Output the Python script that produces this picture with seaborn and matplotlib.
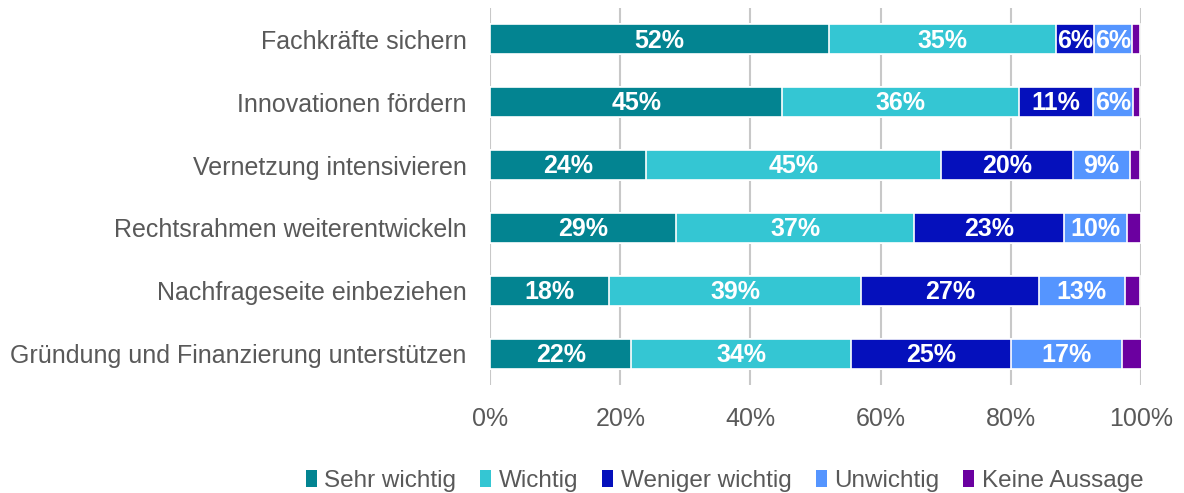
#!/usr/bin/env python3
"""
plot.py - Stacked horizontal bar chart of priorities (share of answers).
"""

import matplotlib.pyplot as plt
from matplotlib.patches import Patch
import pandas as pd
import seaborn as sns

# -- Data -- #

CATEGORIES = [
    'Fachkräfte sichern',
    'Innovationen fördern',
    'Vernetzung intensivieren',
    'Rechtsrahmen weiterentwickeln',
    'Nachfrageseite einbeziehen',
    'Gründung und Finanzierung unterstützen',
]

SERIES = ['Sehr wichtig', 'Wichtig', 'Weniger wichtig', 'Unwichtig', 'Keine Aussage']

SEHR_WICHTIG = [52.1, 44.9, 23.9, 28.6, 18.3, 21.7]
WICHTIG = [34.9, 36.4, 45.4, 36.6, 38.7, 33.8]
WENIGER_WICHTIG = [5.8, 11.3, 20.2, 23.0, 27.3, 24.6]
UNWICHTIG = [5.8, 6.1, 8.8, 9.6, 13.2, 17.0]
KEINE_AUSSAGE = [1.3, 1.2, 1.6, 2.2, 2.4, 3.0]

X_TICKS = [0, 20, 40, 60, 80, 100]

COLORS = ['#038491', '#34C6D3', '#0510BC', '#5595FF', '#6B00A0']

TEXT_GRAY = '#595959'


def main():
    sns.set_theme(style='white')
    plt.rcParams['font.family'] = ['Liberation Sans', 'DejaVu Sans']

    df = pd.DataFrame(
        {
            'category': CATEGORIES,
            SERIES[0]: SEHR_WICHTIG,
            SERIES[1]: WICHTIG,
            SERIES[2]: WENIGER_WICHTIG,
            SERIES[3]: UNWICHTIG,
            SERIES[4]: KEINE_AUSSAGE,
        }
    )
    cum = df[SERIES].cumsum(axis=1)

    fig = plt.figure(figsize=(11.84, 4.93), dpi=100)
    ax = fig.add_axes([0.4139, 0.219, 0.5498, 0.765])

    # Draw cumulative totals from the back so the segments stack.
    for name, color in reversed(list(zip(SERIES, COLORS))):
        sns.barplot(
            x=cum[name],
            y=df['category'],
            order=CATEGORIES,
            orient='h',
            color=color,
            width=0.48,
            edgecolor='white',
            linewidth=1.2,
            saturation=1,
            ax=ax,
        )

    # Segment labels.
    for i in range(len(CATEGORIES)):
        left = 0
        for name in SERIES:
            val = df[name].iloc[i]
            if val >= 5:
                ax.text(
                    left + val / 2, i + 0.02, f'{int(round(val))}%',
                    ha='center', va='center', color='white',
                    fontsize=18, fontweight='bold',
                )
            left += val

    ax.set_xlim(0, 100)
    ax.set_ylim(len(CATEGORIES) - 0.5, -0.5)
    ax.set_xticks(X_TICKS)
    ax.set_xticklabels([f'{t}%' for t in X_TICKS])
    ax.set_xlabel('')
    ax.set_ylabel('')

    ax.grid(axis='x', color='#c8c8c8', linewidth=1.5)
    ax.grid(axis='y', visible=False)
    ax.set_axisbelow(True)
    sns.despine(ax=ax, left=True, bottom=True)

    ax.tick_params(axis='x', length=0, pad=16, labelsize=18, labelcolor=TEXT_GRAY)
    ax.tick_params(axis='y', length=0, pad=17, labelsize=18, labelcolor=TEXT_GRAY)

    handles = [Patch(facecolor=c, edgecolor='none') for c in COLORS]
    fig.legend(
        handles, SERIES,
        loc='center', bbox_to_anchor=(0.612, 0.024),
        ncol=5, frameon=False,
        fontsize=17.5, labelcolor=TEXT_GRAY,
        handlelength=0.45, handleheight=0.7, handletextpad=0.3,
        columnspacing=1.0,
    )

    fig.savefig('out.png', dpi=100)


if __name__ == '__main__':
    main()
